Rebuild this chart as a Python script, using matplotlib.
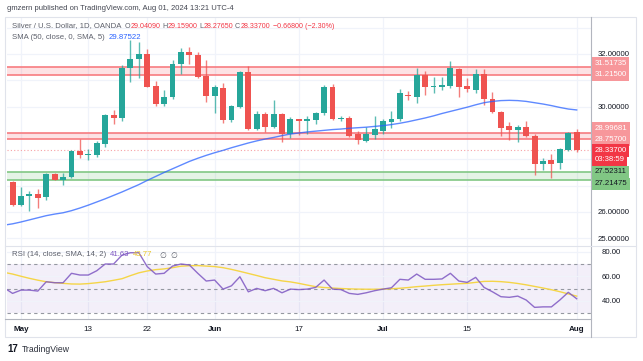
import numpy as np
import pandas as pd
import matplotlib
matplotlib.use('Agg')
from matplotlib import pyplot as plt
from matplotlib.patches import Rectangle
from matplotlib.lines import Line2D

plt.rcParams['font.family'] = ['Liberation Sans', 'DejaVu Sans']

# daily bars, Apr 29 .. Aug 1 2024 (OANDA trades every weekday)
dates = pd.bdate_range('2024-04-29', '2024-08-01')

opens = [27.20, 27.13, 26.27, 26.62, 26.67, 26.56, 27.43, 27.21, 27.32, 28.33,
         28.15, 28.16, 28.59, 29.67, 29.58, 31.48, 31.81, 31.99, 30.77, 30.10,
         30.36, 31.62, 32.09, 31.96, 31.15, 30.39, 30.72, 29.48, 29.98, 31.30,
         29.15, 29.73, 29.24, 29.71, 28.95, 29.53, 29.46, 29.51, 29.75, 30.73,
         29.53, 29.58, 28.95, 28.71, 28.92, 29.08, 29.41, 29.53, 30.45, 30.36,
         31.20, 30.75, 30.75, 30.80, 31.42, 30.78, 30.63, 31.23, 30.29, 29.81,
         29.26, 29.11, 29.23, 28.90, 27.83, 27.99, 27.85, 28.35, 29.0409]
highs = [27.28, 27.16, 26.94, 26.80, 26.87, 27.49, 27.49, 27.48, 28.36, 28.76,
         28.38, 28.71, 29.72, 29.86, 31.58, 32.52, 32.45, 32.19, 30.97, 30.63,
         31.79, 32.24, 32.28, 32.09, 31.77, 30.82, 30.89, 30.06, 31.35, 31.54,
         29.83, 29.81, 30.25, 29.75, 29.62, 29.55, 29.66, 29.81, 30.82, 30.86,
         29.65, 29.64, 29.08, 29.24, 29.65, 29.53, 29.83, 30.67, 30.59, 31.48,
         31.35, 31.11, 31.14, 31.75, 31.46, 31.08, 31.42, 31.42, 30.57, 29.85,
         29.41, 29.30, 29.46, 28.95, 28.06, 28.19, 28.42, 29.04, 29.159]
lows = [27.05, 26.22, 26.22, 26.05, 26.14, 26.44, 27.20, 27.03, 27.28, 28.06,
        27.97, 28.09, 28.47, 29.33, 29.46, 30.95, 31.08, 30.74, 30.04, 30.04,
        30.30, 31.23, 31.62, 31.08, 30.19, 29.77, 29.39, 29.41, 29.93, 29.11,
        29.10, 29.03, 29.18, 28.67, 28.82, 28.92, 28.95, 29.33, 29.70, 29.48,
        29.45, 28.85, 28.57, 28.67, 28.77, 28.95, 29.20, 29.46, 30.25, 30.13,
        30.44, 30.51, 30.63, 30.70, 30.38, 30.55, 30.51, 30.06, 29.77, 28.90,
        28.73, 28.67, 28.86, 27.40, 27.59, 27.30, 27.63, 28.31, 28.2765]
closes = [27.13, 26.25, 26.62, 26.67, 26.54, 27.43, 27.23, 27.32, 28.33, 28.15,
          28.20, 28.61, 29.67, 29.56, 31.48, 31.81, 31.99, 30.76, 30.09, 30.36,
          31.62, 32.09, 31.96, 31.14, 30.39, 30.73, 29.48, 30.01, 31.30, 29.15,
          29.73, 29.24, 29.71, 28.95, 29.53, 29.46, 29.53, 29.75, 30.73, 29.53,
          29.58, 28.90, 28.73, 28.97, 29.15, 29.44, 29.53, 30.51, 30.39, 31.20,
          30.76, 30.80, 30.81, 31.46, 30.76, 30.67, 31.23, 30.29, 29.81, 29.20,
          29.11, 29.23, 28.90, 27.83, 27.94, 27.83, 28.39, 28.99, 28.337]

sma50 = [25.50, 25.55, 25.62, 25.70, 25.78, 25.86, 25.92, 25.97, 26.05, 26.15,
         26.26, 26.38, 26.50, 26.63, 26.76, 26.90, 27.04, 27.20, 27.35, 27.50,
         27.64, 27.78, 27.92, 28.04, 28.15, 28.25, 28.34, 28.44, 28.53, 28.62,
         28.70, 28.77, 28.83, 28.90, 28.96, 29.00, 29.04, 29.07, 29.10, 29.13,
         29.15, 29.18, 29.20, 29.22, 29.25, 29.28, 29.32, 29.37, 29.43, 29.50,
         29.57, 29.65, 29.74, 29.82, 29.90, 29.98, 30.07, 30.15, 30.20, 30.23,
         30.24, 30.23, 30.20, 30.15, 30.10, 30.04, 29.97, 29.91, 29.875]

rsi = [50.6, 46.0, 48.7, 48.7, 47.9, 55.5, 54.7, 54.7, 62.4, 61.0,
       61.0, 64.5, 70.0, 70.0, 77.3, 79.2, 79.2, 67.8, 61.8, 62.4,
       68.3, 70.0, 69.2, 62.4, 56.1, 56.9, 49.5, 52.2, 59.6, 47.3,
       50.1, 48.2, 50.1, 46.5, 49.5, 49.1, 49.5, 50.9, 56.9, 49.5,
       49.1, 46.0, 45.2, 46.5, 48.2, 49.5, 50.6, 57.5, 56.9, 61.8,
       57.5, 57.5, 57.8, 62.4, 56.1, 55.0, 59.1, 50.9, 47.3, 43.3,
       42.8, 43.8, 40.6, 34.6, 35.0, 35.0, 40.6, 46.9, 41.63]
rsi_sma = [63.2, 61.8, 60.0, 58.3, 56.8, 55.5, 54.8, 54.2, 53.7, 53.6,
           54.0, 54.7, 55.5, 56.7, 58.0, 60.5, 62.8, 64.3, 65.4, 66.0,
           67.0, 68.2, 68.6, 68.7, 68.3, 67.9, 67.0, 65.6, 64.0, 62.3,
           60.6, 58.8, 57.5, 56.2, 55.4, 54.2, 52.8, 51.5, 50.8, 50.4,
           50.0, 49.7, 49.5, 49.4, 49.4, 49.5, 49.8, 50.2, 50.8, 51.5,
           52.0, 52.6, 53.1, 53.5, 53.9, 54.2, 55.0, 55.8, 55.9, 55.6,
           55.0, 54.1, 53.0, 51.7, 50.4, 49.0, 47.4, 45.6, 43.77]

# drawn levels
red_zones = [(31.21500, 31.51735), (28.75700, 28.99681)]
green_zones = [(27.21475, 27.52311)]
last_price = 28.337

tick_dates = ['2024-05-01', '2024-05-13', '2024-05-22', '2024-06-03',
              '2024-06-17', '2024-07-01', '2024-07-15', '2024-08-01']
tick_labels = ['May', '13', '22', 'Jun', '17', 'Jul', '15', 'Aug']
price_ticks = [32, 30, 26, 25]
rsi_ticks = [80, 60, 40]

UP, DOWN = '#26a69a', '#ef5350'
GRID = '#f0f3fa'
TXT = '#131722'
GRAY = '#5d606b'
RED = '#f23645'

W, H = 643, 361
fig = plt.figure(figsize=(W / 100, H / 100), dpi=100)


def fx(x):
    return x / W


def fy(y):
    return 1 - y / H


def text_row(x0, y, parts):
    # lay pieces of a legend line one after another
    r = fig.canvas.get_renderer()
    xp = x0
    for s, cl, gap, size in parts:
        t = fig.text(fx(xp), fy(y), s, fontsize=size, color=cl, va='center')
        xp += t.get_window_extent(r).width + gap


ax = fig.add_axes([fx(7), fy(246), fx(591) - fx(7), fy(17) - fy(246)])
rx = fig.add_axes([fx(7), fy(319), fx(591) - fx(7), fy(246) - fy(319)])

x = np.arange(len(dates))
tick_pos = [dates.get_loc(pd.Timestamp(d)) for d in tick_dates]

for a in (ax, rx):
    a.set_xlim(0.34, 69.7)
    for s in a.spines.values():
        s.set_visible(False)
    a.tick_params(length=0)
    a.set_xticks([])
    a.yaxis.tick_right()
    for t in tick_pos:
        a.axvline(t, color=GRID, lw=0.9, zorder=0)

# ---- price pane
ax.set_ylim(24.708, 33.405)
for p in range(25, 34):
    ax.axhline(p, color=GRID, lw=0.9, zorder=0)
ax.set_yticks(price_ticks)
ax.set_yticklabels([f'{p:.5f}' for p in price_ticks], fontsize=5.6, color=TXT)
ax.tick_params(axis='y', pad=5)

for lo, hi in red_zones:
    ax.axhspan(lo, hi, color='#f23645', alpha=0.14, lw=0, zorder=1)
    for v in (lo, hi):
        ax.axhline(v, color='#f77c80', lw=1.2, zorder=1)
for lo, hi in green_zones:
    ax.axhspan(lo, hi, color='#4caf50', alpha=0.14, lw=0, zorder=1)
    for v in (lo, hi):
        ax.axhline(v, color='#81c784', lw=1.2, zorder=1)
ax.axhline(last_price, color='#f7a1a5', lw=0.8, ls=(0, (1, 2)), zorder=1)

o = np.array(opens)
c = np.array(closes)
col = np.where(c >= o, UP, DOWN)
ax.vlines(x, lows, highs, colors=col, lw=1, alpha=0.75, zorder=3)
body = np.maximum(np.abs(c - o), 0.025)
ax.bar(x, body, bottom=np.minimum(o, c), width=0.7, color=col, zorder=4)
ax.plot(x, sma50, color='#2962ff', lw=1, alpha=0.75, zorder=5)

# price-scale labels
labels = [(31.51735, '31.51735', '#f7979b', 'white', 3),
          (31.21500, '31.21500', '#f7979b', 'white', 0),
          (28.99681, '28.99681', '#f7979b', 'white', 4.5),
          (28.75700, '28.75700', '#f7979b', 'white', 0),
          (28.33700, '28.33700', '#f23645', 'white', 0),
          (28.33700, '03:38:59', '#f23645', 'white', -9.2),
          (27.52311, '27.52311', '#81c784', TXT, 0),
          (27.21475, '27.21475', '#81c784', TXT, -3.8)]
for val, txt, bg, fg, off in labels:
    ax.annotate(txt, xy=(1.0, val), xycoords=('axes fraction', 'data'),
                xytext=(2.5, off * 0.72), textcoords='offset points',
                ha='left', va='center', fontsize=5.6, color=fg, zorder=10,
                annotation_clip=False,
                bbox=dict(boxstyle='square,pad=0.35', fc=bg, ec='none'))

# ---- RSI pane
rx.set_ylim(25.1, 84.7)
rx.axhspan(30, 70, color='#7e57c2', alpha=0.09, lw=0, zorder=0)
for v in rsi_ticks:
    rx.axhline(v, color=GRID, lw=0.9, zorder=0)
for v in (70, 50, 30):
    rx.axhline(v, color='#9598a1', lw=0.8, ls=(0, (3, 3)), zorder=1)
rx.plot(x, rsi_sma, color='#f5d547', lw=1, zorder=3)
rx.plot(x, rsi, color='#7e57c2', lw=1, alpha=0.85, zorder=4)
rx.set_yticks(rsi_ticks)
rx.set_yticklabels([f'{v:.2f}' for v in rsi_ticks], fontsize=5.6, color=TXT)
rx.tick_params(axis='y', pad=8)

# date labels
for t, lab in zip(tick_pos, tick_labels):
    bold = not lab.isdigit()
    rx.text(t, -0.14, lab, transform=rx.get_xaxis_transform(), ha='center',
            va='center', fontsize=5.8, color=TXT,
            fontweight='bold' if bold else 'normal')

# ---- frame lines
fig.add_artist(Rectangle((fx(5), fy(337)), fx(636) - fx(5), fy(17) - fy(337),
                         transform=fig.transFigure, fill=False,
                         ec='#e0e3eb', lw=0.8))
fig.add_artist(Line2D([fx(591), fx(591)], [fy(17), fy(337)], color='#b2b5be', lw=0.8))
fig.add_artist(Line2D([fx(5), fx(591)], [fy(319), fy(319)], color='#b2b5be', lw=0.8))
fig.add_artist(Line2D([fx(5), fx(636)], [fy(246), fy(246)], color='#e0e3eb', lw=0.8))

# ---- texts
fig.text(fx(7), fy(9), 'gmzern published on TradingView.com, Aug 01, 2024 13:21 UTC-4',
         fontsize=5.5, color='#434651', va='center')

text_row(12, 26, [('Silver / U.S. Dollar, 1D, OANDA', GRAY, 3, 5.6),
                  ('O', GRAY, 0.2, 5.1), ('29.04090', RED, 1.8, 5.1),
                  ('H', GRAY, 0.2, 5.1), ('29.15900', RED, 1.8, 5.1),
                  ('L', GRAY, 0.2, 5.1), ('28.27650', RED, 1.8, 5.1),
                  ('C', GRAY, 0.2, 5.1), ('28.33700', RED, 3, 5.1),
                  ('\u22120.66800 (\u22122.30%)', RED, 0, 5.1)])
text_row(12, 37.5, [('SMA (50, close, 0, SMA, 5)', GRAY, 4, 5.6),
                    ('29.87522', '#2962ff', 0, 5.6)])
text_row(12, 255, [('RSI (14, close, SMA, 14, 2)', GRAY, 4, 5.6),
                   ('41.63', '#7e57c2', 3, 5.6), ('43.77', '#e8c52c', 0, 5.6)])
for px_ in (159, 170):
    fig.text(fx(px_), fy(255), '\u2205', fontsize=5.6, color=GRAY, va='center',
             family=['DejaVu Sans'])

fig.text(fx(7), fy(349), '17', fontsize=7, fontweight='bold', color=TXT, va='center')
fig.text(fx(22), fy(349.5), 'TradingView', fontsize=6.2, color='#2a2e39', va='center')

fig.savefig('out.png', dpi=100, facecolor='white')
